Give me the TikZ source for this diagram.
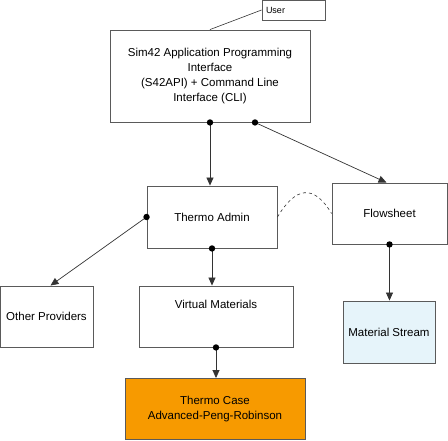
\documentclass[tikz,border=0pt]{standalone}
\usepackage{fontspec}
\setmainfont{Liberation Sans}
\usepackage{tikz}
\usetikzlibrary{arrows.meta}
\definecolor{boxline}{HTML}{5A5A5A}
\definecolor{caseorange}{HTML}{F79A00}
\definecolor{streamblue}{HTML}{E6F4FA}
\tikzset{
    box/.style={draw=boxline, line width=0.9pt, inner sep=2pt, align=center,
        font=\fontsize{11.5}{15}\selectfont},
    link/.style={draw=black!80, line width=0.7pt, -{Triangle[length=8pt,width=7pt]}},
}
\def\Dot at (#1); {
    \fill (#1) circle (3.2pt);
}

\begin{document}
\begin{tikzpicture}[x=1pt, y=-1pt]
        \useasboundingbox (0, 0) rectangle (448, 440);
        \node[box, minimum width=63, minimum height=20, text width=55, align=left,
            font=\fontsize{9}{10}\selectfont] (user) at (293.5, 10) {User};
        \node[box, minimum width=200, minimum height=92] (api) at (210, 76)
            {Sim42 Application Programming\\ Interface\\ (S42API) + Command Line\\ Interface (CLI)};
        \node[box, minimum width=130, minimum height=62] (admin) at (212, 217) {Thermo Admin};
        \node[box, minimum width=115, minimum height=61] (flow) at (389.5, 213.5) {Flowsheet};
        \node[box, minimum width=93, minimum height=61] (other) at (46.5, 316.5) {Other Providers};
        \node[box, minimum width=154, minimum height=61] (virt) at (216, 316.5) {};
        \node[box, draw=none] (virttext) at (216, 304) {Virtual Materials};
        \node[box, fill=caseorange, minimum width=180, minimum height=61] (case) at (215, 409)
            {Thermo Case\\ Advanced-Peng-Robinson};
        \node[box, fill=streamblue, minimum width=92, minimum height=62] (stream) at (389, 332)
            {Material Stream};

        % connectors
        \draw[black!80, line width=0.6pt] (user.west) -- (api.north);
        \draw[link] (api.south) -- (admin.north -| api.south);
        \draw[link] ([xshift=45]api.south) -- ([xshift=-3]flow.north);
        \draw[link] (admin.west) -- ([xshift=4]other.north);
        \draw[link] (admin.south) -- (virt.north -| admin.south);
        \draw[link] (virt.south) -- (case.north -| virt.south);
        \draw[link] (flow.south) -- (stream.north -| flow.south);
        \draw[black!80, line width=0.6pt, dashed] (admin.east) .. controls +(18, -30) and +(-18, -30) .. (flow.west);

        % dots
        \Dot at (api.south);
        \Dot at ([xshift=45]api.south);
        \Dot at (admin.west);
        \Dot at (admin.south);
        \Dot at (virt.south);
        \Dot at (flow.south);
    \end{tikzpicture}
\end{document}
